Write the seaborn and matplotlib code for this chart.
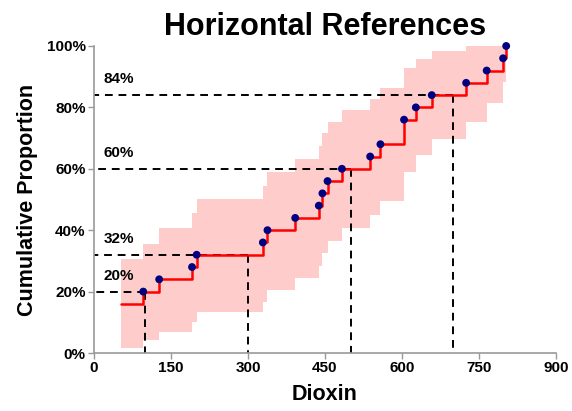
import matplotlib
matplotlib.use("Agg")
import matplotlib.pyplot as plt
import numpy as np
import pandas as pd
import seaborn as sns
from matplotlib.ticker import FuncFormatter, MultipleLocator

# empirical CDF of dioxin (percent), step at each x
dioxin = [52, 96, 127, 191, 200, 329, 338, 392, 438, 445, 455, 483, 538,
          558, 604, 627, 658, 725, 765, 797, 803]
cum_pct = [16, 20, 24, 28, 32, 36, 40, 44, 48, 52, 56, 60, 64,
           68, 76, 80, 84, 88, 92, 96, 100]
# confidence band around the ECDF
band_lower = [1.5, 4.2, 6.9, 10.2, 13.5, 16.7, 20.5, 24.3, 28.3, 32.5, 36.6,
              40.6, 45.0, 49.5, 59.0, 64.5, 69.6, 75.3, 81.5, 88.4, 88.4]
band_upper = [30.5, 35.5, 40.6, 45.7, 50.0, 54.5, 59.0, 63.2, 67.4, 71.6, 75.3,
              79.2, 82.6, 86.2, 92.7, 95.7, 98.4, 100, 100, 100, 100]
# reference lines: (dioxin, proportion)
ref_x = [100, 300, 500, 700]
ref_y = [20, 32, 60, 84]

sns.set_theme(style="white")
plt.rcParams["font.family"] = ["Liberation Sans", "DejaVu Sans"]
plt.rcParams["font.weight"] = "bold"
plt.rcParams["text.color"] = "black"
plt.rcParams["axes.labelcolor"] = "black"
plt.rcParams["xtick.color"] = "black"
plt.rcParams["ytick.color"] = "black"

df = pd.DataFrame({"dioxin": dioxin, "cum": cum_pct})

fig = plt.figure(figsize=(5.72, 4.11), dpi=100)
ax = fig.add_axes([0.1643, 0.1411, 0.8077, 0.7470])

ax.fill_between(dioxin, band_lower, band_upper, step="post",
                color="#FFCCCC", linewidth=0, zorder=1)

for rx, ry in zip(ref_x, ref_y):
    ax.plot([rx, 0], [ry, ry], color="black", linestyle=(0, (4, 3)), lw=1.4, zorder=2)
    ax.plot([rx, rx], [ry, 0], color="black", linestyle=(0, (4, 3)), lw=1.4, zorder=2)
    ax.text(19, ry + 5.2, f"{ry}%", fontsize=11, fontweight="bold", va="center")

sns.lineplot(data=df, x="dioxin", y="cum", drawstyle="steps-post", estimator=None,
             color="red", lw=1.8, ax=ax, zorder=3)
sns.scatterplot(data=df[df["dioxin"] > 60], x="dioxin", y="cum", color="#000080",
                s=32, edgecolor="none", ax=ax, zorder=4, clip_on=False)

ax.set_xlim(0, 900)
ax.set_ylim(0, 100)
ax.xaxis.set_major_locator(MultipleLocator(150))
ax.yaxis.set_major_locator(MultipleLocator(20))
ax.yaxis.set_major_formatter(FuncFormatter(lambda v, _: f"{v:.0f}%"))

for side in ["top", "right"]:
    ax.spines[side].set_visible(False)
for side in ["left", "bottom"]:
    ax.spines[side].set_color("#999999")
    ax.spines[side].set_linewidth(1.2)
ax.tick_params(axis="both", direction="out", length=4, width=1, color="#999999",
               labelcolor="black", labelsize=11, pad=2, bottom=True, left=True)
for lab in ax.get_xticklabels() + ax.get_yticklabels():
    lab.set_fontweight("bold")

ax.set_xlabel("Dioxin", fontsize=15.5, fontweight="bold", labelpad=6)
ax.set_ylabel("Cumulative Proportion", fontsize=15.5, fontweight="bold", labelpad=6)
ax.set_title("Horizontal References", fontsize=22, fontweight="bold", pad=8)

fig.savefig("out.png", dpi=100)
